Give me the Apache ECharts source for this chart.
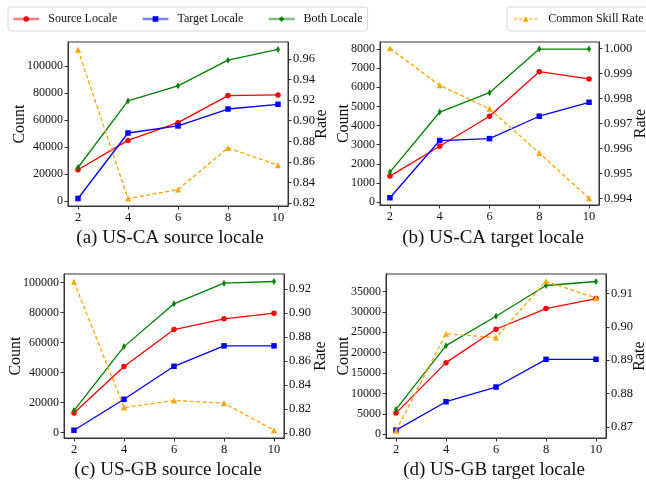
<!DOCTYPE html>
<html>
<head>
<meta charset="utf-8">
<script src="https://cdn.jsdelivr.net/npm/echarts@6/dist/echarts.min.js"></script>
<style>
html,body{margin:0;padding:0;background:#fff;}
#chart{width:646px;height:483px;}
</style>
</head>
<body>
<div id="chart"></div>
<script>
// ---- data ----
const xValues = [2, 4, 6, 8, 10];
const seriesNames = ['Source Locale', 'Target Locale', 'Both Locale', 'Common Skill Rate'];
const panelTitles = ['(a) US-CA source locale', '(b) US-CA target locale', '(c) US-GB source locale', '(d) US-GB target locale'];

const aSource = [23200, 44900, 58000, 78000, 78500];
const aTarget = [2000, 50400, 55600, 68100, 71600];
const aBoth   = [24900, 74100, 85200, 104200, 112100];
const aRate   = [0.969, 0.8242, 0.833, 0.8735, 0.8566];

const bSource = [1360, 2920, 4490, 6820, 6440];
const bTarget = [230, 3220, 3320, 4490, 5220];
const bBoth   = [1570, 4710, 5720, 8000, 8000];
const bRate   = [1.000, 0.99852, 0.99758, 0.99581, 0.99400];

const cSource = [13100, 44000, 68700, 75800, 79600];
const cTarget = [1600, 22200, 44200, 57800, 57800];
const cBoth   = [14700, 57300, 85800, 99600, 100700];
const cRate   = [0.9261, 0.8214, 0.8272, 0.8250, 0.8025];

const dSource = [5160, 17540, 25740, 30820, 33280];
const dTarget = [980, 7950, 11560, 18360, 18360];
const dBoth   = [6070, 21720, 28930, 36480, 37460];
const dRate   = [0.8689, 0.8979, 0.8968, 0.9136, 0.9086];

const countTicksA = [0, 20000, 40000, 60000, 80000, 100000];
const rateTicksA  = [0.82, 0.84, 0.86, 0.88, 0.90, 0.92, 0.94, 0.96];
const countTicksB = [0, 1000, 2000, 3000, 4000, 5000, 6000, 7000, 8000];
const rateTicksB  = [0.994, 0.995, 0.996, 0.997, 0.998, 0.999, 1.000];
const countTicksC = [0, 20000, 40000, 60000, 80000, 100000];
const rateTicksC  = [0.80, 0.82, 0.84, 0.86, 0.88, 0.90, 0.92];
const countTicksD = [0, 5000, 10000, 15000, 20000, 25000, 30000, 35000];
const rateTicksD  = [0.87, 0.88, 0.89, 0.90, 0.91];

// ---- layout / style ----
const FONT = 'Liberation Serif';
const AX = '#333';
const panels = [
  {grid:{left:68, top:42, width:220, height:164}, cMin:-3530, cMax:117600, rMin:0.817, rMax:0.9765,
   cTicks:countTicksA, rTicks:rateTicksA, rDec:2, data:[aSource,aTarget,aBoth,aRate], title:[170,240], cGap:40, rGap:26},
  {grid:{left:380, top:42, width:219, height:163}, cMin:-150, cMax:8370, rMin:0.99373, rMax:1.000254,
   cTicks:countTicksB, rTicks:rateTicksB, rDec:3, data:[bSource,bTarget,bBoth,bRate], title:[493,240], cGap:28, rGap:34},
  {grid:{left:64, top:274, width:220, height:164}, cMin:-3600, cMax:105700, rMin:0.796, rMax:0.9325,
   cTicks:countTicksC, rTicks:rateTicksC, rDec:2, data:[cSource,cTarget,cBoth,cRate], title:[168,472], cGap:40, rGap:29},
  {grid:{left:386, top:274, width:220, height:164}, cMin:-950, cMax:39300, rMin:0.8667, rMax:0.9158,
   cTicks:countTicksD, rTicks:rateTicksD, rDec:2, data:[dSource,dTarget,dBoth,dRate], title:[494,472], cGap:34.5, rGap:26}
];
const colors = ['#ff0000', '#0000ff', '#008000', '#ffa500'];
const symbols = ['circle', 'rect', 'diamond', 'triangle'];
const symbolSizes = [5.5, 5.5, [4, 7], 6];

const grid = [], xAxis = [], yAxis = [], series = [], title = [];
panels.forEach((p, i) => {
  grid.push(Object.assign({show:true, borderColor:AX, borderWidth:1, containLabel:false, outerBoundsMode:'none'}, p.grid));
  xAxis.push({
    type:'value', gridIndex:i, min:1.6, max:10.4,
    axisLine:{show:true, onZero:false, lineStyle:{color:AX, width:1}},
    axisTick:{show:true, length:3.5, customValues:xValues, lineStyle:{color:AX}},
    axisLabel:{customValues:xValues, color:'#111', fontFamily:FONT, fontSize:12.5, margin:5,
      formatter:(v) => String(v)},
    splitLine:{show:false}
  });
  yAxis.push({
    type:'value', gridIndex:i, position:'left', min:p.cMin, max:p.cMax,
    name:'Count', nameLocation:'middle', nameGap:p.cGap, nameMoveOverlap:false,
    nameTextStyle:{fontFamily:FONT, fontSize:16, color:'#111'},
    axisLine:{show:true, onZero:false, lineStyle:{color:AX, width:1}},
    axisTick:{show:true, length:3.5, customValues:p.cTicks, lineStyle:{color:AX}},
    axisLabel:{customValues:p.cTicks, color:'#111', fontFamily:FONT, fontSize:12, margin:5,
      formatter:(v) => String(Math.round(v))},
    splitLine:{show:false}
  });
  yAxis.push({
    type:'value', gridIndex:i, position:'right', min:p.rMin, max:p.rMax,
    name:'Rate', nameLocation:'middle', nameGap:p.rGap, nameRotate:90, nameMoveOverlap:false,
    nameTextStyle:{fontFamily:FONT, fontSize:16, color:'#111'},
    axisLine:{show:true, onZero:false, lineStyle:{color:AX, width:1}},
    axisTick:{show:true, length:3.5, customValues:p.rTicks, lineStyle:{color:AX}},
    axisLabel:{customValues:p.rTicks, color:'#111', fontFamily:FONT, fontSize:12.5, margin:5,
      formatter:(v) => v.toFixed(p.rDec)},
    splitLine:{show:false}
  });
  p.data.forEach((vals, k) => {
    series.push({
      name:seriesNames[k], type:'line', xAxisIndex:i, yAxisIndex:i*2 + (k === 3 ? 1 : 0),
      data:xValues.map((x, j) => [x, vals[j]]),
      symbol:symbols[k], symbolSize:symbolSizes[k], showSymbol:true, clip:false,
      lineStyle:{color:colors[k], width:1.3, type:k === 3 ? [4, 2.5] : 'solid'},
      itemStyle:{color:colors[k], opacity:1},
      emphasis:{disabled:true}, animation:false, z:2 + k
    });
  });
  title.push({
    text:panelTitles[i], left:p.title[0], top:p.title[1] - 11, textAlign:'center', padding:0,
    textStyle:{fontFamily:FONT, fontSize:19, fontWeight:'normal', color:'#111'}
  });
});

const legendCommon = {
  orient:'horizontal', itemWidth:26, itemHeight:7, itemGap:24,
  padding:[6, 5, 6, 4], borderColor:'#d6d6d6', borderWidth:1, borderRadius:3,
  backgroundColor:'#fff', selectedMode:false,
  textStyle:{fontFamily:FONT, fontSize:12, color:'#111', padding:[0, 0, 0, 4]}
};
const legendItem = (k) => ({name:seriesNames[k],
  lineStyle:{opacity:0.5, width:2.5, color:colors[k], type:k === 3 ? [3, 2] : 'solid'},
  itemStyle:{color:colors[k], opacity:1}});

const option = {
  backgroundColor:'#fff',
  animation:false,
  title:title,
  legend:[
    Object.assign({}, legendCommon, {left:8, top:7, data:[0, 1, 2].map(legendItem)}),
    Object.assign({}, legendCommon, {left:507, top:7, itemWidth:23, padding:[6, 5, 6, 6], textStyle:Object.assign({}, legendCommon.textStyle, {padding:[0,0,0,6]}), data:[legendItem(3)]})
  ],
  grid:grid, xAxis:xAxis, yAxis:yAxis, series:series
};
const chart = echarts.init(document.getElementById('chart'), null, {renderer:'canvas'});
chart.setOption(option);
</script>
</body>
</html>
